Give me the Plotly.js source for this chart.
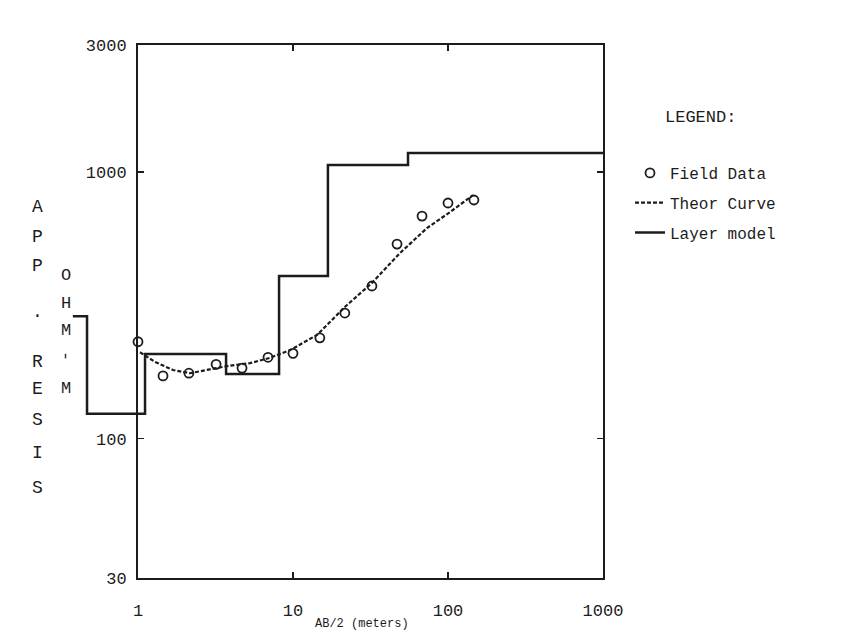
<!DOCTYPE html>
<html>
<head>
<meta charset="utf-8">
<script src="https://cdn.plot.ly/plotly-3.0.1.min.js"></script>
<style>html,body{margin:0;padding:0;background:#fff;}#chart{width:841px;height:634px;}</style>
</head>
<body>
<div id="chart"></div>
<script>
// ---- data ----
var fieldX = [1, 1.45, 2.13, 3.19, 4.69, 6.9, 10, 14.9, 21.6, 32.3, 46.9, 68, 100, 147];
var fieldY = [231, 172, 176, 190, 184, 202, 209, 239, 296, 374, 537, 684, 766, 786];

var theorX = [1.03, 1.29, 1.68, 2.16, 2.91, 3.92, 5.28, 7.1, 9.6, 14.3, 21.6, 32.3, 49, 73.2, 103, 145];
var theorY = [211, 194, 181, 176, 182, 188, 192, 201, 215, 245, 312, 384, 497, 617, 708, 820];

var layerX = [0.38, 0.469, 1.11, 3.70, 8.13, 16.8, 55.2, 1000];
var layerY = [288, 124, 208, 175, 408, 1064, 1180, 1180];

var xTickVals = [1, 10, 100, 1000];
var xTickText = ['1', '10', '100', '1000'];
var yTickVals = [30, 100, 1000, 3000];
var yTickText = ['30', '100', '1000', '3000'];

var yTitleLetters = ['A', 'P', 'P', '.', 'R', 'E', 'S', 'I', 'S'];
var unitLetters = ['O', 'H', 'M', '-', 'M'];
var legendTitle = 'LEGEND:';
var xTitle = 'AB/2 (meters)';

// ---- layout helpers ----
var W = 841, H = 634;
var mL = 60, mR = 238, mT = 45, mB = 56;
var plotW = W - mL - mR, plotH = H - mT - mB;
function px2x(px) { return (px - mL) / plotW; }
function py2y(py) { return 1 - (py - mT) / plotH; }
var ink = '#1c1c1c';
var mono = 'Liberation Mono, DejaVu Sans Mono, monospace';

var pxPerDecade = (603 - 138) / 3;

var traces = [
  {
    x: fieldX, y: fieldY, type: 'scatter', mode: 'markers', name: 'Field Data',
    legendgroup: 'a', cliponaxis: false,
    marker: {symbol: 'circle-open', size: 9, color: ink, line: {width: 1.8, color: ink}}
  },
  {
    x: theorX, y: theorY, type: 'scatter', mode: 'lines', name: 'Theor Curve',
    legendgroup: 'b', line: {color: ink, width: 2.2, dash: '4px,2px'}
  },
  {
    x: layerX, y: layerY, type: 'scatter', mode: 'lines', name: 'Layer model',
    legendgroup: 'c', xaxis: 'x2', yaxis: 'y',
    line: {color: ink, width: 2.5, shape: 'hv'}
  }
];

var annotations = [];
var yTitlePos = [207, 237, 266, 312, 362, 389, 420, 453, 488];
yTitleLetters.forEach(function (c, i) {
  annotations.push({text: c, xref: 'paper', yref: 'paper', x: px2x(37), y: py2y(yTitlePos[i]),
    showarrow: false, xanchor: 'center', yanchor: 'middle', font: {family: mono, size: 18, color: ink}});
});
var unitPos = [275, 303, 330, 356, 388];
unitLetters.forEach(function (c, i) {
  annotations.push({text: c, xref: 'paper', yref: 'paper', x: px2x(66), y: py2y(unitPos[i]),
    showarrow: false, xanchor: 'center', yanchor: 'middle', textangle: c === '-' ? 90 : 0,
    font: {family: mono, size: 17, color: ink}});
});
annotations.push({text: legendTitle, xref: 'paper', yref: 'paper', x: px2x(700), y: py2y(118),
  showarrow: false, xanchor: 'center', yanchor: 'middle', font: {family: mono, size: 17, color: ink}});
annotations.push({text: xTitle, xref: 'paper', yref: 'paper', x: px2x(362), y: py2y(633),
  showarrow: false, xanchor: 'center', yanchor: 'bottom', font: {family: mono, size: 12, color: ink}});

var layout = {
  width: W, height: H,
  margin: {l: mL, r: mR, t: mT, b: mB},
  paper_bgcolor: '#ffffff', plot_bgcolor: 'rgba(0,0,0,0)',
  font: {family: mono, color: ink, size: 16},
  showlegend: true,
  legend: {
    x: px2x(630), y: py2y(156), xanchor: 'left', yanchor: 'top',
    font: {family: mono, size: 16, color: ink},
    traceorder: 'grouped', tracegroupgap: 6, bgcolor: 'rgba(0,0,0,0)'
  },
  xaxis: {
    type: 'log', range: [0, 3], domain: [(138 - mL) / plotW, 1], anchor: 'y',
    tickmode: 'array', tickvals: xTickVals, ticktext: xTickText,
    ticks: 'inside', ticklen: 6, tickwidth: 1.5, tickcolor: ink,
    showline: true, linewidth: 2, linecolor: ink, mirror: 'ticks',
    showgrid: false, zeroline: false, ticklabelstandoff: 16,
    tickfont: {family: mono, size: 17, color: ink}
  },
  xaxis2: {
    type: 'log', range: [-(138 - 70) / pxPerDecade, 3], domain: [(70 - mL) / plotW, 1], anchor: 'y',
    visible: false, showgrid: false, zeroline: false
  },
  yaxis: {
    type: 'log', range: [Math.log10(30), Math.log10(3000)], domain: [0, 1], anchor: 'x',
    tickmode: 'array', tickvals: yTickVals, ticktext: yTickText,
    ticks: 'inside', ticklen: 6, tickwidth: 1.5, tickcolor: ink,
    showline: true, linewidth: 2, linecolor: ink, mirror: 'ticks',
    showgrid: false, zeroline: false, ticklabelstandoff: 6,
    tickfont: {family: mono, size: 17, color: ink}
  },
  annotations: annotations
};

Plotly.newPlot('chart', traces, layout, {staticPlot: true, displayModeBar: false});
</script>
</body>
</html>
